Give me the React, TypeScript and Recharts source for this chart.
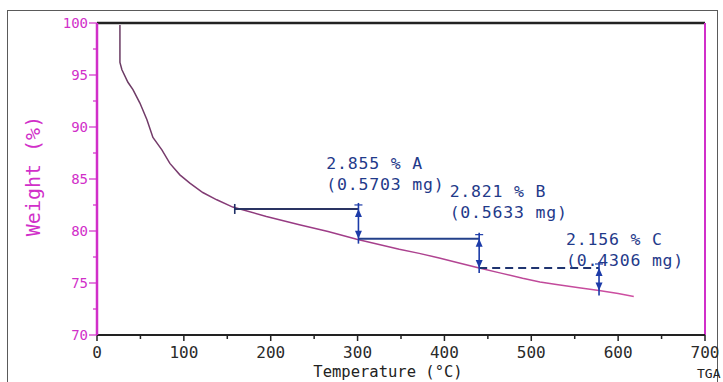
import React from "react";
import {
  LineChart,
  Line,
  XAxis,
  YAxis,
  ReferenceLine,
  ReferenceDot,
} from "recharts";

// TGA curve
const tempC = [
  26.4, 26.4, 28.7, 35.6, 41.4, 49.4, 57.5, 64.4, 74.7, 83.9, 95.4, 106.9,
  121.8, 137.9, 156.3, 195, 233, 266, 299, 348, 371, 394, 418, 440, 465, 490,
  510, 529, 555, 578, 600, 618,
];
const weightPct = [
  99.8, 96.2, 95.5, 94.3, 93.6, 92.3, 90.7, 89.0, 87.8, 86.5, 85.4, 84.6, 83.7,
  83.0, 82.3, 81.4, 80.6, 79.95, 79.2, 78.25, 77.85, 77.4, 76.9, 76.45, 75.95,
  75.45, 75.1, 74.85, 74.55, 74.27, 74.0, 73.7,
];

// weight loss steps
const stepNames = ["A", "B", "C"];
const stepStart = [158.6, 301, 440];
const stepEnd = [301, 440, 578];
const stepTop = [82.12, 79.265, 76.444];
const stepLoss = [2.855, 2.821, 2.156];
const stepMass = ["0.5703", "0.5633", "0.4306"];
const labelT = [264, 406, 540];
const labelW = [85.96, 83.27, 78.65];

const xTicks = [0, 50, 100, 150, 200, 250, 300, 350, 400, 450, 500, 550, 600, 650, 700];
const yTicks = [70, 72.5, 75, 77.5, 80, 82.5, 85, 87.5, 90, 92.5, 95, 97.5, 100];

const data = tempC.map((t, i) => ({ t, w: weightPct[i] }));

const MAGENTA = "#d12fc9";
const MONO = "'DejaVu Sans Mono', monospace";

const XTick = ({ x, y, payload }: any) => {
  const major = payload.value % 100 === 0;
  return (
    <g>
      <line x1={x} y1={y} x2={x} y2={y + (major ? 6 : 4)} stroke="#222" strokeWidth={1.5} />
      {major && (
        <text x={x} y={y + 23} textAnchor="middle" fontFamily={MONO} fontSize={16} fill="#2a2a2a">
          {payload.value}
        </text>
      )}
    </g>
  );
};

const YTick = ({ x, y, payload }: any) => {
  const major = payload.value % 5 === 0;
  return (
    <g>
      <line x1={x} y1={y} x2={x - (major ? 8 : 4)} y2={y} stroke={MAGENTA} strokeWidth={1.2} />
      {major && (
        <text x={x - 9} y={y + 5} textAnchor="end" fontFamily={MONO} fontSize={14} fill={MAGENTA}>
          {payload.value}
        </text>
      )}
    </g>
  );
};

const arrowHead = (x: number, y: number, dir: number, color: string) => (
  <path
    d={`M${x},${y} L${x - 3.5},${y - dir * 8} L${x + 3.5},${y - dir * 8} Z`}
    fill={color}
  />
);

const StepArrow = (props: any) => {
  const { x1, y1, y2 } = props;
  const top = Math.min(y1, y2);
  const bot = Math.max(y1, y2);
  const c = "#1c3ba8";
  return (
    <g>
      <line x1={x1} y1={top - 6} x2={x1} y2={bot + 5} stroke={c} strokeWidth={1.6} />
      <line x1={x1 - 4} y1={top - 4} x2={x1 + 4} y2={top - 4} stroke={c} strokeWidth={1.2} />
      {arrowHead(x1, top, -1, c)}
      {arrowHead(x1, bot, 1, c)}
    </g>
  );
};

const StartTick = (props: any) => {
  const { cx, cy } = props;
  return <line x1={cx} y1={cy - 5} x2={cx} y2={cy + 5} stroke="#1f2f66" strokeWidth={1.6} />;
};

const makeLabel = (i: number) => (props: any) => {
  const { cx, cy } = props;
  return (
    <text fontFamily={MONO} fontSize={16.5} fill="#1f3a8a" letterSpacing={0.8}>
      <tspan x={cx} y={cy}>{`${stepLoss[i].toFixed(3)} % ${stepNames[i]}`}</tspan>
      <tspan x={cx} y={cy + 21}>{`(${stepMass[i]} mg)`}</tspan>
    </text>
  );
};

const hColors = ["#2a3463", "#23408a", "#1f3470"];

export default function App() {
  return (
    <div style={{ position: "absolute", left: 0, top: 0, width: 723, height: 382, background: "#fff", overflow: "hidden" }}>
      <div
        style={{
          position: "absolute",
          left: 7,
          top: 10,
          width: 711,
          height: 400,
          border: "1.5px solid #5a5a5a",
          boxSizing: "border-box",
        }}
      />
      <div style={{ position: "absolute", left: 0, top: 0 }}>
        <LineChart width={723} height={382} data={data} margin={{ top: 23, right: 18, left: 0, bottom: 0 }}>
          <defs>
            <linearGradient id="tgaLine" x1="0" y1="0" x2="1" y2="0">
              <stop offset="0" stopColor="#6a3b63" />
              <stop offset="0.35" stopColor="#9a3b85" />
              <stop offset="1" stopColor="#cf4fa2" />
            </linearGradient>
          </defs>
          <XAxis
            dataKey="t"
            type="number"
            domain={[0, 700]}
            ticks={xTicks}
            interval={0}
            tickSize={0}
            tickMargin={0}
            tick={<XTick />}
            height={47}
            stroke="#222"
            strokeWidth={2}
            allowDataOverflow
            label={{
              content: () => (
                <g>
                  <text x={388} y={377} textAnchor="middle" fontFamily={MONO} fontSize={15.5} fill="#222">
                    Temperature (°C)
                  </text>
                  <text x={697} y={378} fontFamily={MONO} fontSize={13} fill="#222">
                    TGA
                  </text>
                </g>
              ),
            }}
          />
          <YAxis
            type="number"
            domain={[70, 100]}
            ticks={yTicks}
            interval={0}
            tickSize={0}
            tickMargin={0}
            tick={<YTick />}
            width={97}
            stroke={MAGENTA}
            strokeWidth={2.5}
            allowDataOverflow
            label={{
              content: () => (
                <text
                  x={40}
                  y={176}
                  transform="rotate(-90 40 176)"
                  textAnchor="middle"
                  fontFamily={MONO}
                  fontSize={20}
                  fill={MAGENTA}
                >
                  Weight (%)
                </text>
              ),
            }}
          />
          <ReferenceLine y={100} stroke="#222" strokeWidth={2.5} />
          <ReferenceLine x={700} stroke={MAGENTA} strokeWidth={2} />
          <Line
            type="linear"
            dataKey="w"
            stroke="url(#tgaLine)"
            strokeWidth={1.5}
            dot={false}
            isAnimationActive={false}
          />
          {stepNames.map((n, i) => (
            <ReferenceLine
              key={`h-${n}`}
              segment={[
                { x: stepStart[i], y: stepTop[i] },
                { x: stepEnd[i], y: stepTop[i] },
              ]}
              stroke={hColors[i]}
              strokeWidth={2}
              strokeDasharray={i === 2 ? "8 5" : undefined}
            />
          ))}
          {stepNames.map((n, i) => (
            <ReferenceLine
              key={`v-${n}`}
              segment={[
                { x: stepEnd[i], y: stepTop[i] },
                { x: stepEnd[i], y: stepTop[i] - stepLoss[i] },
              ]}
              shape={StepArrow}
            />
          ))}
          <ReferenceDot x={stepStart[0]} y={stepTop[0]} r={0} shape={StartTick} />
          {stepNames.map((n, i) => (
            <ReferenceDot key={`l-${n}`} x={labelT[i]} y={labelW[i]} r={0} shape={makeLabel(i)} />
          ))}
        </LineChart>
      </div>
    </div>
  );
}
